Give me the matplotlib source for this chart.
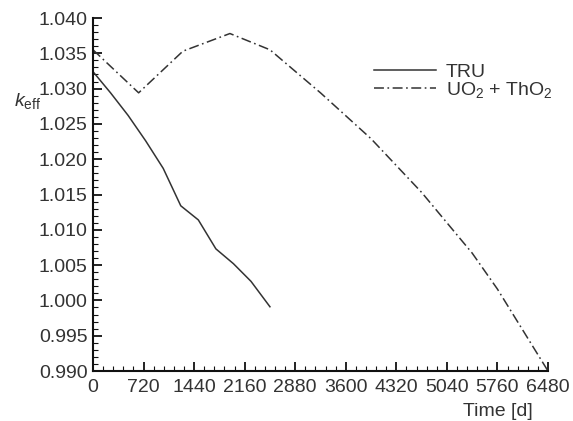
import matplotlib
matplotlib.use("Agg")
import matplotlib.pyplot as plt
from matplotlib.ticker import MultipleLocator, FormatStrFormatter

plt.rcParams['font.family'] = ['Liberation Sans', 'DejaVu Sans']
plt.rcParams['mathtext.fontset'] = 'custom'
plt.rcParams['mathtext.rm'] = 'Liberation Sans'
plt.rcParams['mathtext.it'] = 'Liberation Sans:italic'

# Data
tru_t = [0, 250, 500, 750, 1000, 1250, 1500, 1750, 2000, 2250, 2520]
tru_k = [1.0324, 1.0294, 1.0262, 1.0226, 1.0187, 1.0134, 1.0114, 1.0073, 1.0052, 1.0027, 0.9991]

uo2_t = [0, 650, 1280, 1950, 2520, 3240, 3960, 4680, 5400, 5760, 6480]
uo2_k = [1.0355, 1.0294, 1.0353, 1.0378, 1.0355, 1.0294, 1.0229, 1.0153, 1.0067, 1.0016, 0.9900]

xticks = [0, 720, 1440, 2160, 2880, 3600, 4320, 5040, 5760, 6480]
yticks = [0.990, 0.995, 1.000, 1.005, 1.010, 1.015, 1.020, 1.025, 1.030, 1.035, 1.040]

col = '#333333'
fig = plt.figure(figsize=(5.73, 4.21), dpi=100)
ax = fig.add_axes([93/573, 50/421, (548-93)/573, (371-18)/421])

ax.plot(tru_t, tru_k, color=col, lw=1.1, ls='-', label='TRU')
ax.plot(uo2_t, uo2_k, color=col, lw=1.1, ls=(0, (6.5, 2.3, 1.1, 2.3)),
        label='UO$_2$ + ThO$_2$')

ax.set_xlim(0, 6480)
ax.set_ylim(0.990, 1.040)
ax.set_xticks(xticks)
ax.set_yticks(yticks)
ax.yaxis.set_major_formatter(FormatStrFormatter('%.3f'))
ax.xaxis.set_minor_locator(MultipleLocator(144))
ax.yaxis.set_minor_locator(MultipleLocator(0.001))

for s in ['top', 'right']:
    ax.spines[s].set_visible(False)
for s in ['left', 'bottom']:
    ax.spines[s].set_linewidth(1.5)
    ax.spines[s].set_color('#111111')

ax.tick_params(which='major', direction='in', length=6.5, width=1.3, colors='#111111',
               labelsize=14, labelcolor=col)
ax.tick_params(axis='x', which='major', pad=6)
ax.tick_params(axis='y', which='major', pad=4)
ax.tick_params(which='minor', direction='in', length=3.5, width=0.8, colors='#111111')

fig.text(14/573, 1 - 101/421, '$k_{\\rm eff}$', fontsize=14, color=col, va='center', ha='left')
fig.text(533/573, 1 - 412/421, 'Time [d]', fontsize=14, color=col, va='center', ha='right')

leg = ax.legend(loc='upper left', bbox_to_anchor=(374/573, 1 - 63/421),
                bbox_transform=fig.transFigure, frameon=False, fontsize=14,
                handlelength=3.2, handletextpad=0.5, labelspacing=-0.05,
                borderpad=0, borderaxespad=0)
for t in leg.get_texts():
    t.set_color(col)

fig.savefig('out.png', dpi=100)
